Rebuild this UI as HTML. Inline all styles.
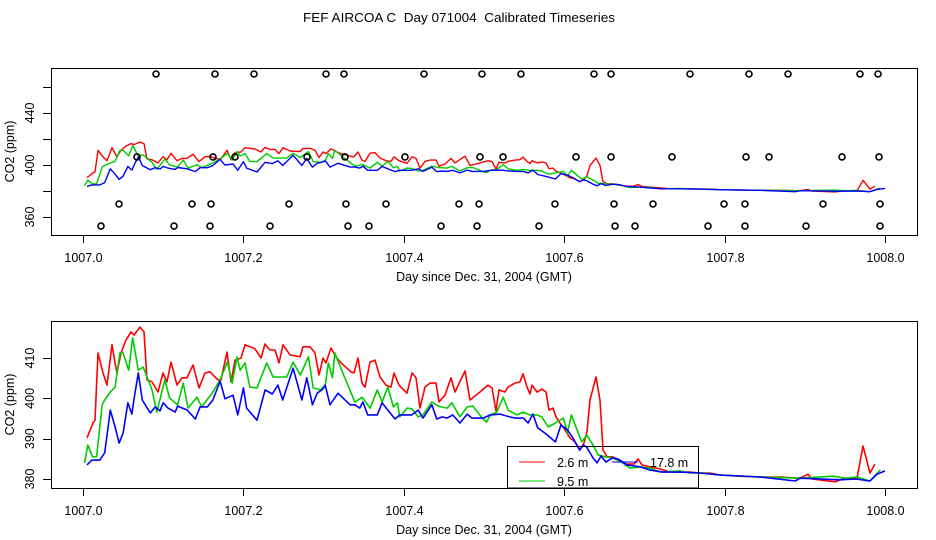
<!DOCTYPE html>
<html><head><meta charset="utf-8">
<style>
html,body{margin:0;padding:0;background:#fff;}
svg{display:block;font-family:"Liberation Sans",Arial,sans-serif;}
</style></head>
<body>
<svg id="chart" width="936" height="540" viewBox="0 0 936 540" xmlns="http://www.w3.org/2000/svg">
<text x="459" y="22" font-size="12.5" text-anchor="middle" style="white-space:pre" textLength="312" lengthAdjust="spacingAndGlyphs">FEF AIRCOA C  Day 071004  Calibrated Timeseries</text>
</svg>
<script>
// ---- data ----
const redT=[.005,.0125,.015,.0187,.0249,.0299,.0362,.0399,.0424,.0474,.0536,.0599,.0636,.0711,.0761,.0798,.086,.0935,.0998,.1047,.1097,.1172,.1234,.1297,.1372,.1446,.1521,.1584,.1683,.1721,.1796,.1845,.1895,.197,.202,.2145,.2219,.2269,.2332,.2394,.2444,.2494,.2581,.2706,.2743,.283,.2893,.2943,.2993,.303,.3092,.3155,.3217,.3342,.3379,.3429,.3479,.3516,.3579,.3641,.3703,.3778,.384,.3878,.394,.404,.4102,.4152,.4202,.4264,.4327,.4401,.4439,.4514,.4589,.4638,.4763,.4825,.495,.505,.51,.515,.5187,.5262,.5299,.5387,.5449,.5486,.5536,.5574,.5599,.5661,.5723,.5773,.581,.586,.5898,.5948,.601,.6072,.6135,.6197,.6247,.6284,.6322,.6397,.6446,.6484,.6534,.6596,.6696,.6771,.687,.692,.697,.707,.7195,.7319,.7444,.7569,.7693,.7818,.7943,.8192,.8441,.8691,.894,.904,.909,.9377,.9501,.9651,.9726,.9813,.9875];
const redV=[390.2,393.9,394.6,411.3,406.3,403.3,413.3,408.8,406.3,411.3,414.5,416.5,415.7,417.7,416.5,404.6,404.1,401.6,406.3,404.1,409.0,403.3,405.1,405.1,408.3,402.6,406.3,406.6,404.6,404.6,411.5,404.1,409.5,410.0,413.3,412.3,410.0,413.5,412.0,412.0,408.8,413.3,410.8,410.3,412.8,412.8,411.3,405.8,410.0,408.8,412.5,410.3,408.8,406.6,406.3,410.0,403.8,402.8,409.0,409.5,405.3,403.3,402.8,406.3,403.3,401.3,406.3,405.1,397.6,402.8,403.8,403.8,399.1,400.8,405.1,401.6,406.8,399.6,401.6,403.3,402.6,396.9,402.1,401.6,402.8,403.8,404.1,406.1,402.8,401.1,403.3,401.6,402.3,401.6,397.1,397.6,395.4,393.9,392.2,390.2,389.2,387.2,388.9,391.7,399.6,405.3,399.6,387.2,385.5,385.5,384.7,383.7,383.7,385.0,383.5,383.0,382.5,381.7,381.7,381.7,381.5,381.5,381.0,380.7,380.5,380.5,380.2,381.2,380.0,379.3,380.2,380.2,388.2,381.5,383.7];
const greenT=[.002,.006,.012,.017,.024,.027,.034,.040,.046,.050,.057,.062,.069,.075,.086,.092,.102,.108,.118,.125,.131,.142,.148,.161,.171,.180,.186,.192,.196,.202,.208,.217,.229,.237,.254,.262,.271,.281,.287,.296,.302,.306,.311,.314,.324,.339,.348,.358,.367,.373,.380,.387,.392,.395,.404,.410,.418,.424,.435,.443,.454,.460,.470,.479,.486,.498,.503,.508,.516,.524,.530,.541,.549,.557,.566,.572,.580,.589,.599,.604,.609,.616,.622,.628,.636,.642,.651,.661,.673,.682,.695,.707,.720,.744,.757,.773,.794,.844,.894,.935,.950,.965,.981,.994];
const greenV=[384.0,388.4,385.5,385.5,398.4,399.6,401.6,402.8,411.3,411.3,407.0,415.0,407.0,407.8,402.1,396.6,404.6,400.1,398.4,403.8,397.6,400.3,397.9,401.3,404.6,409.0,403.8,410.3,407.0,408.8,402.8,402.6,408.8,405.3,405.3,409.0,405.8,410.3,402.6,402.1,403.3,408.8,405.1,411.3,406.3,399.1,400.3,397.6,402.1,399.1,402.8,397.9,398.9,395.4,397.6,397.4,395.4,395.9,399.1,398.1,397.6,398.9,395.4,397.9,398.1,395.1,394.1,395.9,396.6,400.3,397.1,395.9,396.6,395.9,395.9,395.4,392.9,393.9,395.1,391.4,395.9,392.2,389.2,390.9,388.4,386.0,385.5,385.2,384.0,382.7,383.0,382.7,381.7,382.0,381.5,381.5,381.0,380.5,380.2,380.7,380.2,380.5,379.5,382.2];
const blueT=[.005,.011,.021,.027,.034,.040,.045,.050,.056,.061,.064,.069,.074,.080,.084,.090,.096,.100,.106,.115,.118,.130,.140,.146,.155,.162,.171,.177,.187,.193,.200,.204,.217,.227,.236,.243,.249,.262,.273,.279,.286,.292,.299,.302,.308,.318,.333,.339,.345,.349,.355,.367,.373,.380,.389,.395,.410,.418,.424,.435,.441,.448,.454,.461,.470,.479,.485,.499,.508,.520,.532,.539,.549,.555,.561,.567,.576,.589,.596,.604,.611,.619,.624,.628,.636,.641,.646,.652,.660,.667,.678,.695,.707,.723,.744,.769,.794,.844,.888,.894,.944,.964,.981,.990,1.000];
const blueV=[383.5,384.7,384.7,386.5,397.1,392.9,388.9,391.4,398.9,396.1,400.3,406.3,399.6,397.6,396.4,397.9,396.9,398.9,397.6,396.6,398.1,397.1,394.9,397.9,397.9,399.6,404.3,399.9,400.8,395.9,402.6,397.6,394.6,402.1,401.1,403.3,399.6,407.5,399.6,405.1,398.4,401.3,402.3,403.3,398.4,401.3,398.4,398.4,397.6,399.1,395.9,395.9,398.9,397.1,394.9,395.9,395.9,397.1,395.1,398.4,394.9,395.4,395.1,395.9,393.9,396.1,395.1,395.1,395.9,396.1,395.4,395.1,395.1,393.9,396.1,392.7,391.4,389.2,393.4,392.2,390.2,387.2,388.4,387.9,385.2,384.0,385.7,384.2,385.2,385.0,383.5,383.0,382.2,381.7,381.7,381.5,381.0,380.5,379.5,380.2,379.8,380.0,379.5,381.2,382.0];
const flaskTopT=[.0911,.1646,.2132,.3030,.3254,.4252,.4975,.5461,.6372,.6584,.7569,.8304,.8791,.9688,.9913];
const flaskHiT=[.0673,.1621,.1895,.2793,.3267,.4015,.4950,.5237,.6147,.6584,.7344,.8267,.8554,.9464,.9925];
const flaskMidT=[.0449,.1359,.1596,.2569,.3279,.3778,.4688,.4938,.5885,.6621,.7107,.7993,.8254,.9227,.9938];
const flaskLoT=[.0224,.1135,.1584,.2332,.3304,.3566,.4464,.4913,.5686,.6634,.6883,.7793,.8254,.9015,.9938];
const flaskTopV=470, flaskHiV=406.2, flaskMidV=370, flaskLoV=353;
const xTicks=[1007.0,1007.2,1007.4,1007.6,1007.8,1008.0];
const topYTicks=[360,380,400,420,440,460];
const topYLabels=[360,400,440];
const botYTicks=[380,390,400,410];
const legendLabels=["2.6 m","9.5 m","17.8 m"];
const seriesColors=["#ff0000","#00cc00","#0000ff"];

const NS="http://www.w3.org/2000/svg";
const svg=document.getElementById('chart');
function mk(tag,attrs,parent){const e=document.createElementNS(NS,tag);for(const k in attrs)e.setAttribute(k,attrs[k]);(parent||svg).appendChild(e);return e;}

function panel(cfg){
  const g=mk('g',{});
  
  
  const xs=d=>83+(d-1007)*802;
  const ys=v=>cfg.y0-(v-cfg.v0)*cfg.k;
  const sets=[[redT,redV],[greenT,greenV],[blueT,blueV]];
  const names=['series-2-6m','series-9-5m','series-17-8m'];
  sets.forEach((s,i)=>{
    const pts=s[0].map((t,j)=>xs(1007+t).toFixed(1)+','+ys(s[1][j]).toFixed(1)).join(' ');
    const pl=mk('polyline',{points:pts,fill:'none',stroke:seriesColors[i],'stroke-width':cfg.lw,'stroke-linejoin':'round'},g);
    
    
  });
  if(cfg.flasks){
    [[flaskTopT,flaskTopV],[flaskHiT,flaskHiV],[flaskMidT,flaskMidV],[flaskLoT,flaskLoV]].forEach(f=>{
      f[0].forEach(t=>{
        const c=mk('circle',{cx:xs(1007+t),cy:ys(f[1]),r:3,fill:'none',stroke:'#000','stroke-width':1.6},g);
        
        
      });
    });
  }
  const b=mk('rect',{x:51.5,y:cfg.top+.5,width:866,height:cfg.bot-cfg.top,fill:'none',stroke:'#000','stroke-width':1},g);
  
  
  xTicks.forEach(d=>{
    const x=Math.round(xs(d))+.5;
    mk('line',{x1:x,x2:x,y1:cfg.bot,y2:cfg.bot+8,stroke:'#000'},g);
    const t=mk('text',{x:x,y:cfg.bot+27,'font-size':12.5,'text-anchor':'middle'},g);
    t.textContent=d.toFixed(1);
    
    
  });
  const xt=mk('text',{x:484,y:cfg.bot+46,'font-size':12.5,'text-anchor':'middle'},g);
  xt.textContent='Day since Dec. 31, 2004 (GMT)';
  
  
  cfg.yt.forEach(v=>{
    const y=Math.round(ys(v))+.5;
    mk('line',{x1:43,x2:51,y1:y,y2:y,stroke:'#000'},g);
  });
  cfg.yl.forEach(v=>{
    const y=ys(v);
    const t=mk('text',{x:0,y:0,'font-size':12.5,'text-anchor':'middle',transform:'translate(34,'+y+') rotate(-90)'},g);
    t.textContent=String(v);
    
    
  });
  const yt=mk('text',{x:0,y:0,'font-size':12.5,'text-anchor':'middle',transform:'translate(14,'+((cfg.top+cfg.bot)/2)+') rotate(-90)'},g);
  yt.textContent='CO2 (ppm)';
  
  
  return g;
}
panel({name:'top-panel',top:68,bot:235,y0:217,v0:360,k:1.3,lw:1.4,flasks:true,yt:topYTicks,yl:topYLabels});
const bp=panel({name:'bottom-panel',top:321,bot:488,y0:479,v0:380,k:4.03,lw:1.6,flasks:false,yt:botYTicks,yl:botYTicks});
const lg=mk('g',{},bp);


mk('rect',{x:507.5,y:446.5,width:191,height:41.5,fill:'none',stroke:'#000'},lg);
const legPos=[[519,462,557],[519,481,557],[612,462,650]];
legendLabels.forEach((lab,i)=>{
  const p=legPos[i];
  const l=mk('line',{x1:p[0],x2:p[0]+26,y1:p[1],y2:p[1],stroke:seriesColors[i],'stroke-width':1},lg);
  
  
  const t=mk('text',{x:p[2],y:p[1]+5,'font-size':12.5},lg);
  t.textContent=lab;
  
  
});
</script>
</body></html>
